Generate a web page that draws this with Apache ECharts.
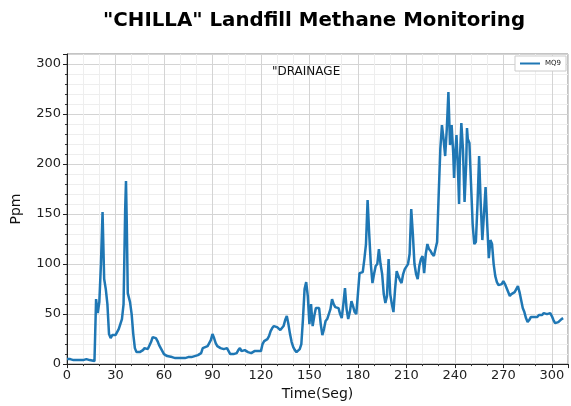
<!DOCTYPE html>
<html>
<head>
<meta charset="utf-8">
<title>CHILLA Landfill Methane Monitoring</title>
<script src="https://cdn.jsdelivr.net/npm/echarts@6/dist/echarts.min.js"></script>
<style>
  html, body { margin: 0; padding: 0; background: #fff; }
  #chart { width: 571px; height: 406px; }
</style>
</head>
<body>
<div id="chart"></div>
<script>
  // time (s) and MQ9 reading (ppm)
  const times = [
    0, 2, 4, 7, 10, 12, 14, 17, 18, 19, 20, 21, 22, 23, 24, 25, 26, 27, 28, 29,
    30, 31, 32, 33, 34, 35, 36, 36.5, 37, 37.6, 39, 40, 41, 42, 43, 44, 45, 46, 47, 48,
    49, 50, 51, 52, 53, 54, 55, 56, 57, 58, 59, 60, 61, 62, 63, 65, 67, 69, 71, 73,
    75, 77, 79, 81, 83, 84, 85, 87, 88, 89, 90, 91, 92, 93, 94, 95, 96, 97, 98, 99,
    100, 101, 102, 103, 104, 105, 106, 107, 108, 109, 110, 111, 112, 113, 114, 115, 116, 117, 118, 119,
    120, 121, 122, 123, 124, 125, 126, 127, 128, 129, 130, 131, 132, 133, 134, 135, 136, 137, 138, 139,
    140, 141, 142, 143, 144, 145, 146, 147, 148, 149, 150, 151, 152, 153, 154, 155, 156, 157, 158, 159,
    160, 161, 162, 163, 164, 165, 166, 167, 168, 169, 170, 171, 172, 173, 174, 175, 176, 177, 178, 179,
    180, 181, 182, 183, 184, 185, 186, 187, 188, 189, 190, 191, 192, 193, 194, 195, 196, 197, 198, 199,
    200, 201, 202, 203, 204, 205, 206, 207, 208, 209, 210, 211, 212, 213, 214, 215, 216, 217, 218, 219,
    220, 221, 222, 223, 224, 225, 226, 227, 228, 229, 230, 231, 232, 233, 234, 235, 236, 237, 238, 239,
    239.5, 240, 241, 242, 242.6, 243, 244, 245, 246, 247, 247.5, 248, 249, 250, 251, 252, 253, 254, 255, 256,
    257, 258, 259, 260, 261, 262, 263, 264, 265, 266, 267, 268, 269, 270, 271, 272, 273, 274, 275, 276,
    277, 278, 279, 280, 281, 282, 283, 284, 285, 286, 287, 288, 289, 290, 291, 292, 293, 294, 295, 296,
    297, 298, 299, 300, 301, 302, 303, 304, 305, 306, 307
  ];
  const ppm = [
    5, 5, 4, 4, 4, 5, 4, 3, 65, 51, 62, 100, 152, 85, 75, 60, 30, 26, 29, 30,
    29, 32, 35, 40, 45, 60, 155, 183, 140, 71, 62, 50, 30, 16, 12, 11, 12, 13, 14, 16,
    17, 15, 16, 22, 27, 28, 26, 23, 19, 16, 13, 10, 9, 8, 7, 7, 6, 6, 6, 6,
    7, 7, 8, 9, 11, 16, 17, 18, 19, 24, 30, 26, 21, 18, 17, 16, 16, 15, 16, 16,
    13, 10, 9, 10, 11, 11, 14, 16, 13, 12, 14, 14, 12, 12, 11, 11, 13, 14, 13, 13,
    13, 20, 23, 24, 25, 28, 33, 36, 38, 37, 37, 36, 34, 33, 38, 44, 48, 40, 30, 22,
    17, 14, 12, 12, 15, 20, 45, 75, 82, 68, 40, 60, 38, 48, 56, 56, 56, 40, 29, 35,
    43, 45, 46, 55, 65, 60, 57, 56, 56, 50, 46, 60, 76, 55, 45, 52, 63, 58, 52, 50,
    70, 91, 91, 92, 105, 120, 164, 130, 100, 81, 90, 98, 100, 115, 100, 90, 70, 61, 68, 105,
    70, 60, 52, 75, 93, 88, 84, 81, 90, 95, 96, 100, 110, 155, 130, 100, 90, 85, 98, 105,
    108, 91, 110, 120, 115, 113, 110, 108, 115, 122, 170, 215, 239, 225, 208, 235, 272, 219, 239, 210,
    186, 205, 229, 190, 160, 200, 241, 215, 162, 200, 236, 225, 221, 180, 140, 120, 122, 160, 208, 160,
    124, 150, 177, 140, 106, 124, 120, 100, 88, 82, 79, 78, 80, 83, 80, 76, 72, 68, 70, 71,
    72, 75, 78, 72, 64, 56, 52, 46, 42, 44, 47, 48, 47, 46, 47, 49, 50, 49, 51, 52,
    50, 50, 51, 48, 44, 41, 41, 42, 43, 45, 46
  ];

  const chart = echarts.init(document.getElementById('chart'));

  const axisFont = { fontFamily: 'DejaVu Sans', fontSize: 13, color: '#222' };

  const option = {
    animation: false,
    backgroundColor: '#fff',
    title: {
      text: '"CHILLA" Landfill Methane Monitoring',
      left: 98,
      top: 6,
      textStyle: { fontFamily: 'DejaVu Sans', fontSize: 19.8, fontWeight: 'bold', color: '#000' }
    },
    legend: {
      data: ['MQ9'],
      right: 5,
      top: 56,
      icon: 'rect',
      itemWidth: 20,
      itemHeight: 2,
      itemGap: 4,
      padding: [4, 5],
      borderColor: '#ccc',
      borderWidth: 1,
      backgroundColor: '#fff',
      textStyle: { fontFamily: 'DejaVu Sans', fontSize: 7, color: '#222' }
    },
    graphic: [
      {
        type: 'text',
        left: 272,
        top: 66,
        z: 100,
        style: { text: '"DRAINAGE', font: '12px "DejaVu Sans"', fill: '#111' }
      }
    ],
    grid: { left: 67, right: 3, top: 54, bottom: 37, show: true, borderColor: '#888', borderWidth: 1 },
    xAxis: {
      type: 'value',
      min: 0,
      max: 310,
      interval: 30,
      name: 'Time(Seg)',
      nameLocation: 'middle',
      nameGap: 22,
      nameTextStyle: { fontFamily: 'DejaVu Sans', fontSize: 14, color: '#111' },
      axisLine: { lineStyle: { color: '#222' } },
      axisTick: { show: true, length: 4, lineStyle: { color: '#222' } },
      minorTick: { show: true, splitNumber: 3, length: 2, lineStyle: { color: '#333' } },
      axisLabel: Object.assign({ margin: 5, showMaxLabel: false }, axisFont),
      splitLine: { show: true, lineStyle: { color: '#d4d4d4', width: 1 } },
      minorSplitLine: { show: true, lineStyle: { color: '#eeeeee', width: 1 } }
    },
    yAxis: {
      type: 'value',
      min: 0,
      max: 310,
      interval: 50,
      name: 'Ppm',
      nameLocation: 'middle',
      nameGap: 44,
      nameTextStyle: { fontFamily: 'DejaVu Sans', fontSize: 14, color: '#111' },
      axisLine: { show: true, lineStyle: { color: '#222' } },
      axisTick: { show: true, length: 4, lineStyle: { color: '#222' } },
      minorTick: { show: true, splitNumber: 5, length: 2, lineStyle: { color: '#333' } },
      axisLabel: Object.assign({ margin: 6, showMaxLabel: false }, axisFont),
      splitLine: { show: true, lineStyle: { color: '#d4d4d4', width: 1 } },
      minorSplitLine: { show: true, lineStyle: { color: '#eeeeee', width: 1 } }
    },
    series: [
      {
        name: 'MQ9',
        type: 'line',
        data: times.map((t, i) => [t, ppm[i]]),
        showSymbol: false,
        symbol: 'none',
        lineStyle: { color: '#1f77b4', width: 2.5 },
        itemStyle: { color: '#1f77b4' }
      }
    ]
  };

  chart.setOption(option);
</script>
</body>
</html>
